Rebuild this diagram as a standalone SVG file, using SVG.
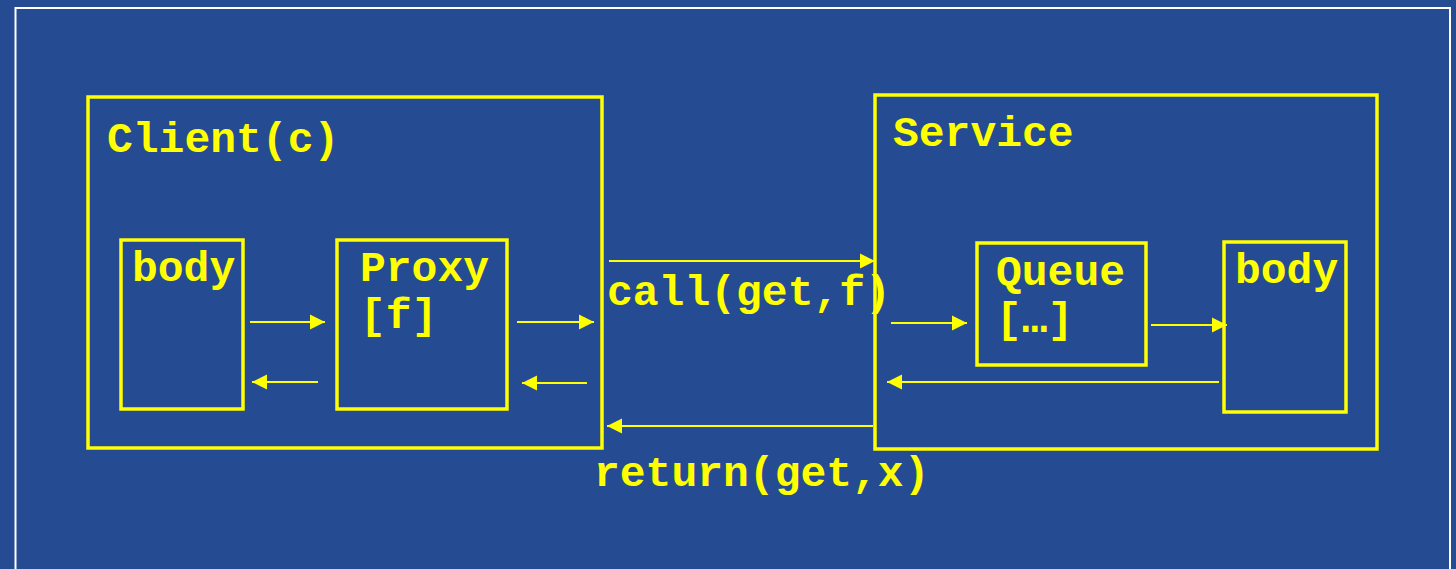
<svg xmlns="http://www.w3.org/2000/svg" width="1456" height="569" viewBox="0 0 1456 569">
  <style>
    .box { fill: none; stroke: #FFFF00; stroke-width: 3.5; }
    .lbl { fill: #FFFF00; font-family: "Liberation Mono", "Courier New", monospace; font-weight: bold; font-size: 43px; }
    .wire { fill: none; stroke: #FFFF00; stroke-width: 2; }
  </style>
  <defs>
    <marker id="head" markerUnits="userSpaceOnUse" markerWidth="16" markerHeight="16" viewBox="0 0 16 16" refX="15" refY="8" orient="auto">
      <path d="M0,0.5 L15,8 L0,15.5 Z" fill="#FFFF00"/>
    </marker>
  </defs>

  <!-- slide background and frame -->
  <rect x="0" y="0" width="1456" height="569" fill="#254B93"/>
  <rect x="15.5" y="8" width="1434.5" height="580" fill="none" stroke="#FFFFFF" stroke-width="2"/>

  <!-- client side -->
  <g id="client">
    <rect class="box" x="88" y="97" width="514" height="351"/>
    <text class="lbl" x="107" y="152">Client(c)</text>
  </g>
  <g id="client-body">
    <rect class="box" x="121" y="240" width="122" height="169"/>
    <text class="lbl" x="132" y="281">body</text>
  </g>
  <g id="proxy">
    <rect class="box" x="337" y="240" width="170" height="169"/>
    <text class="lbl" x="360" y="281">Proxy</text>
    <text class="lbl" x="360" y="328">[f]</text>
  </g>

  <!-- service side -->
  <g id="service">
    <rect class="box" x="875" y="95" width="502" height="354"/>
    <text class="lbl" x="893" y="146">Service</text>
  </g>
  <g id="queue">
    <rect class="box" x="977" y="243" width="169" height="122"/>
    <text class="lbl" x="996" y="285">Queue</text>
    <text class="lbl" x="996" y="332">[…]</text>
  </g>
  <g id="service-body">
    <rect class="box" x="1224" y="242" width="122" height="170"/>
    <text class="lbl" x="1235" y="283">body</text>
  </g>

  <!-- message flow -->
  <g id="connectors">
    <line class="wire" x1="250" y1="322" x2="325" y2="322" marker-end="url(#head)"/>
    <line class="wire" x1="318" y1="382" x2="252" y2="382" marker-end="url(#head)"/>
    <line class="wire" x1="517" y1="322" x2="594" y2="322" marker-end="url(#head)"/>
    <line class="wire" x1="587" y1="383" x2="522" y2="383" marker-end="url(#head)"/>
    <line class="wire" x1="609" y1="261" x2="875" y2="261" marker-end="url(#head)"/>
    <line class="wire" x1="873" y1="426" x2="607" y2="426" marker-end="url(#head)"/>
    <line class="wire" x1="891" y1="323" x2="967" y2="323" marker-end="url(#head)"/>
    <line class="wire" x1="1151" y1="325" x2="1227" y2="325" marker-end="url(#head)"/>
    <line class="wire" x1="1219" y1="382" x2="887" y2="382" marker-end="url(#head)"/>
    <text class="lbl" x="607" y="305">call(get,f)</text>
    <text class="lbl" x="594" y="486">return(get,x)</text>
  </g>
</svg>
